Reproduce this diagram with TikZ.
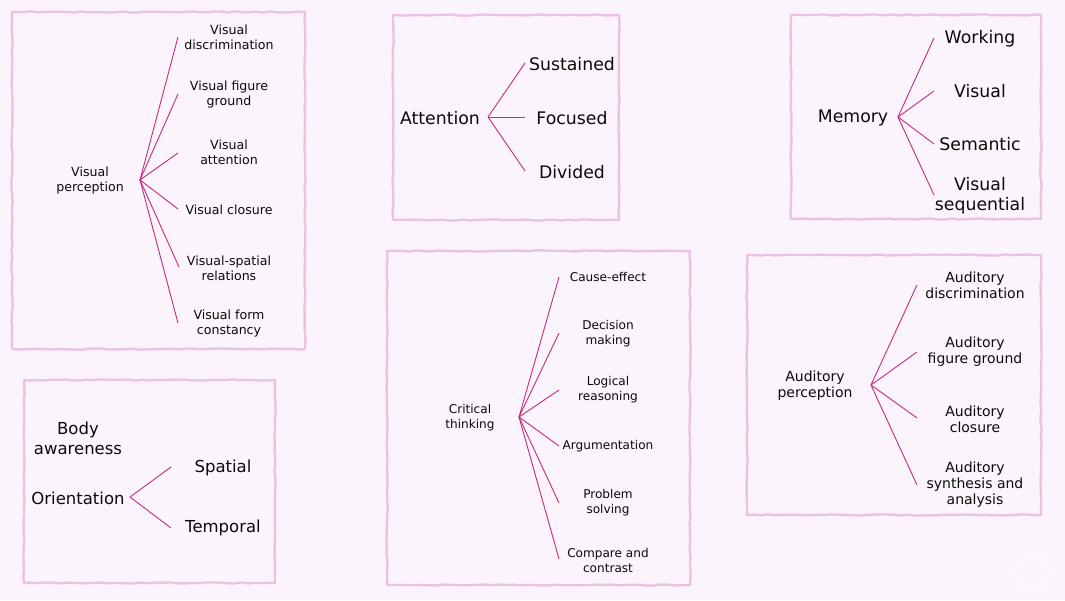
\documentclass[tikz,border=0pt]{standalone}
\usepackage{fontspec}
\setmainfont{DejaVu Sans}
\usetikzlibrary{decorations.pathmorphing}
\definecolor{bgc}{HTML}{FCF4FC}
\definecolor{boxc}{HTML}{ECC2E4}
\definecolor{linec}{HTML}{C42A7E}
\definecolor{txtc}{HTML}{0A0A0A}
\begin{document}
\begin{tikzpicture}[x=1pt,y=-1pt,
  sketchbox/.style={draw=boxc, line width=2.4pt, line join=round,
    decorate, decoration={random steps, segment length=7pt, amplitude=0.6pt}},
  branch/.style={draw=linec, line width=0.9pt},
  lbl/.style={text=txtc, align=center, inner sep=1pt, yshift=-1pt},
  small/.style={lbl, font=\fontsize{12.6}{15}\selectfont},
  smallct/.style={lbl, font=\fontsize{12.1}{15}\selectfont},
  mid/.style={lbl, font=\fontsize{14}{16}\selectfont},
  big/.style={lbl, font=\fontsize{16.5}{20}\selectfont},
  huge/.style={lbl, font=\fontsize{17.3}{20}\selectfont}]
\pgfmathsetseed{7}
\fill[bgc] (0,0) rectangle (1065,600);
\useasboundingbox (0,0) rectangle (1065,600);

% ---------- boxes
\draw[sketchbox] (12,12) rectangle (305,349);
\draw[sketchbox] (393,15) rectangle (619,220);
\draw[sketchbox] (791,15) rectangle (1041,219);
\draw[sketchbox] (24,380) rectangle (275,583);
\draw[sketchbox] (387,251) rectangle (690,585);
\draw[sketchbox] (747,255) rectangle (1041,515);

% ---------- Visual perception
\node[small] (vp) at (90,180) {Visual\\perception};
\coordinate (vph) at (140,180);
\node[small] (vp1) at (229,36) {Visual\\discrimination};
\node[small] (vp2) at (229,94) {Visual figure\\ground};
\node[small] (vp3) at (229,151) {Visual\\attention};
\node[small] (vp4) at (229,209) {Visual closure};
\node[small] (vp5) at (229,267) {Visual-spatial\\relations};
\node[small] (vp6) at (229,323) {Visual form\\constancy};
\coordinate (vpe1) at (178,37);
\coordinate (vpe2) at (178,94);
\coordinate (vpe3) at (178,153);
\coordinate (vpe4) at (178,209);
\coordinate (vpe5) at (179,267);
\coordinate (vpe6) at (178,323);
\foreach \i in {1,...,6} \draw[branch] (vph) -- (vpe\i);

% ---------- Attention
\node[huge] (at) at (440,117) {Attention};
\coordinate (ath) at (488,117);
\node[huge] (at1) at (572,63) {Sustained};
\node[huge] (at2) at (572,117) {Focused};
\node[huge] (at3) at (572,171) {Divided};
\coordinate (ate1) at (525,63);
\coordinate (ate2) at (525,117);
\coordinate (ate3) at (525,171);
\foreach \i in {1,2,3} \draw[branch] (ath) -- (ate\i);

% ---------- Memory
\node[huge] (me) at (853,117) {Memory};
\coordinate (meh) at (898,117);
\node[huge] (me1) at (980,38) {Working};
\node[huge] (me2) at (980,90) {Visual};
\node[huge] (me3) at (980,143) {Semantic};
\node[huge] (me4) at (980,195) {Visual\\sequential};
\coordinate (mee1) at (934,38);
\coordinate (mee2) at (934,91);
\coordinate (mee3) at (934,144);
\coordinate (mee4) at (934,195);
\foreach \i in {1,...,4} \draw[branch] (meh) -- (mee\i);

% ---------- Orientation
\node[big] (ba) at (78,437) {Body\\awareness};
\node[big] (or) at (78,497) {Orientation};
\coordinate (orh) at (130,497);
\node[big] (or1) at (223,467) {Spatial};
\node[big] (or2) at (223,527) {Temporal};
\coordinate (ore1) at (171,467);
\coordinate (ore2) at (171,528);
\foreach \i in {1,2} \draw[branch] (orh) -- (ore\i);

% ---------- Critical thinking
\node[smallct] (ct) at (470,417) {Critical\\thinking};
\coordinate (cth) at (519,417);
\node[smallct] (ct1) at (608,276) {Cause-effect};
\node[smallct] (ct2) at (608,333) {Decision\\making};
\node[smallct] (ct3) at (608,389) {Logical\\reasoning};
\node[smallct] (ct4) at (608,445) {Argumentation};
\node[smallct] (ct5) at (608,502) {Problem\\solving};
\node[smallct] (ct6) at (608,559) {Compare and\\contrast};
\coordinate (cte1) at (559,277);
\coordinate (cte2) at (559,333);
\coordinate (cte3) at (559,390);
\coordinate (cte4) at (559,446);
\coordinate (cte5) at (559,503);
\coordinate (cte6) at (559,559);
\foreach \i in {1,...,6} \draw[branch] (cth) -- (cte\i);

% ---------- Auditory perception
\node[mid] (ap) at (815,385) {Auditory\\perception};
\coordinate (aph) at (871,385);
\node[mid] (ap1) at (975,284) {Auditory\\discrimination};
\node[mid] (ap2) at (975,351) {Auditory\\figure ground};
\node[mid] (ap3) at (975,418) {Auditory\\closure};
\node[mid] (ap4) at (975,484) {Auditory\\synthesis and\\analysis};
\coordinate (ape1) at (917,285);
\coordinate (ape2) at (917,352);
\coordinate (ape3) at (917,418);
\coordinate (ape4) at (917,485);
\foreach \i in {1,...,4} \draw[branch] (aph) -- (ape\i);

% ---------- faint mark
\draw[white, line width=0.8pt] (1032,572) circle (17);
\end{tikzpicture}
\end{document}
